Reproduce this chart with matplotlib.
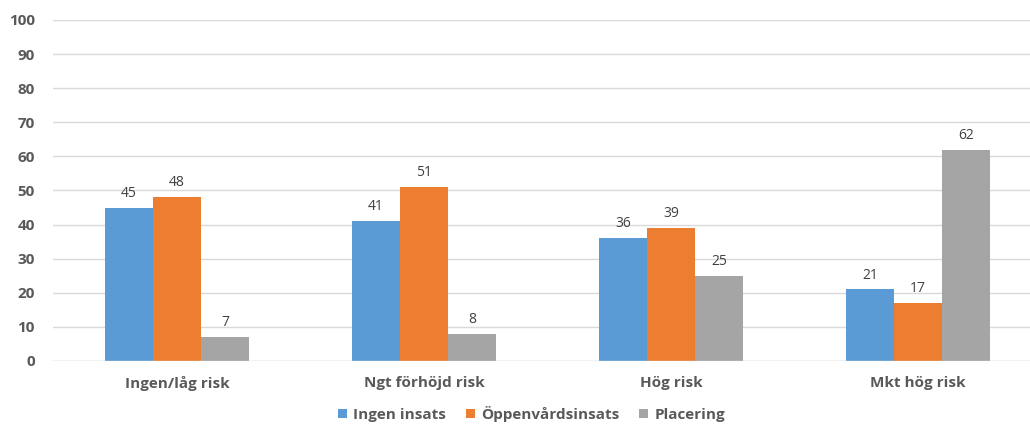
import matplotlib.pyplot as plt
import numpy as np

kategorier = ["Ingen/låg risk", "Ngt förhöjd risk", "Hög risk", "Mkt hög risk"]
ingen_insats = [45, 41, 36, 21]
oppenvard = [48, 51, 39, 17]
placering = [7, 8, 25, 62]
serier = ["Ingen insats", "Öppenvårdsinsats", "Placering"]
farger = ["#5B9BD5", "#ED7D31", "#A5A5A5"]

plt.rcParams['font.family'] = ['Open Sans', 'DejaVu Sans']

fig = plt.figure(figsize=(10.3, 4.25), dpi=100)
ax = fig.add_axes([0.0515, 0.1506, 0.9485, 0.8024])

x = np.arange(len(kategorier))
w = 0.194
for i, (vals, namn, f) in enumerate(zip([ingen_insats, oppenvard, placering], serier, farger)):
    pos = x + (i - 1) * w
    bars = ax.bar(pos, vals, width=w, color=f, label=namn, zorder=3)
    for b, v in zip(bars, vals):
        ax.text(b.get_x() + b.get_width() / 2, v + 2, str(v), ha='center', va='bottom',
                fontsize=10, color='#404040')

ax.set_ylim(0, 100)
ax.set_xlim(-0.502, 3.453)
ax.set_yticks(range(0, 101, 10))
ax.yaxis.grid(True, color='#D9D9D9', linewidth=1, zorder=0)
for s in ax.spines.values():
    s.set_visible(False)
ax.axhline(0, color='#D9D9D9', linewidth=1, zorder=4)
ax.tick_params(length=0)
ax.tick_params(axis='y', pad=13)
ax.tick_params(axis='x', pad=11)
ax.set_xticks(x)
ax.set_xticklabels(kategorier)
for t in ax.get_yticklabels() + ax.get_xticklabels():
    t.set_fontweight('bold')
    t.set_color('#595959')
    t.set_fontsize(11)

fig.legend(loc='center', bbox_to_anchor=(0.516, 0.026), ncol=3, frameon=False,
           handlelength=0.6, handleheight=0.6, handletextpad=0.4, columnspacing=1.3,
           prop={'weight': 'bold', 'size': 11}, labelcolor='#595959')

fig.savefig('out.png', dpi=100)
